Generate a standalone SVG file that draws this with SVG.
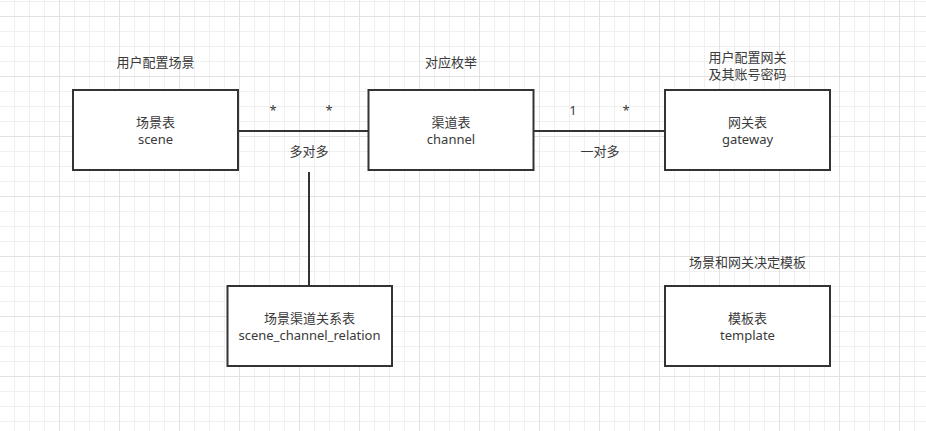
<svg xmlns="http://www.w3.org/2000/svg" width="926" height="431" viewBox="0 0 926 431">
<style>
  .box { fill: #ffffff; stroke: #333333; stroke-width: 2; }
  .edge { fill: none; stroke: #333333; stroke-width: 2; }
  text { font-family: "Noto Sans", "Noto Sans CJK SC", sans-serif; font-size: 13px; fill: #3a3a3a; text-anchor: middle; }
</style>
<defs>
  <pattern id="minor" patternUnits="userSpaceOnUse" x="14" y="1" width="15" height="15">
    <path d="M0.5 0V15M0 0.5H15" fill="none" stroke="#f0f0f0" stroke-width="1"/>
  </pattern>
  <pattern id="major" patternUnits="userSpaceOnUse" x="59" y="16" width="60" height="60">
    <path d="M0.5 0V60M0 0.5H60" fill="none" stroke="#e2e2e2" stroke-width="1"/>
  </pattern>
</defs>
<rect width="926" height="431" fill="#ffffff"/>
<rect width="926" height="431" fill="url(#minor)"/>
<rect width="926" height="431" fill="url(#major)"/>

<g id="connectors">
  <path class="edge" d="M238 131H368.5"/>
  <path class="edge" d="M533.5 131H665"/>
  <path class="edge" d="M309 172V286"/>
  <text x="273" y="115">*</text>
  <text x="329" y="115">*</text>
  <text x="309" y="156">多对多</text>
  <text x="573" y="115">1</text>
  <text x="626" y="115">*</text>
  <text x="600" y="156">一对多</text>
</g>

<g id="scene">
  <text x="155.5" y="67">用户配置场景</text>
  <rect class="box" x="73" y="90" width="165" height="80"/>
  <text x="155.5" y="127">场景表</text>
  <text x="155.5" y="144">scene</text>
</g>

<g id="channel">
  <text x="451" y="67">对应枚举</text>
  <rect class="box" x="368.5" y="90" width="165" height="80"/>
  <text x="451" y="127">渠道表</text>
  <text x="451" y="144">channel</text>
</g>

<g id="gateway">
  <text x="747.5" y="62">用户配置网关</text>
  <text x="747.5" y="79">及其账号密码</text>
  <rect class="box" x="665" y="90" width="165" height="80"/>
  <text x="747.5" y="127">网关表</text>
  <text x="747.5" y="144">gateway</text>
</g>

<g id="scene_channel_relation">
  <rect class="box" x="227.5" y="286" width="164.5" height="80"/>
  <text x="309.5" y="323">场景渠道关系表</text>
  <text x="309.5" y="340">scene_channel_relation</text>
</g>

<g id="template">
  <text x="747.5" y="267">场景和网关决定模板</text>
  <rect class="box" x="665" y="286" width="165" height="80"/>
  <text x="747.5" y="323">模板表</text>
  <text x="747.5" y="340">template</text>
</g>
</svg>
